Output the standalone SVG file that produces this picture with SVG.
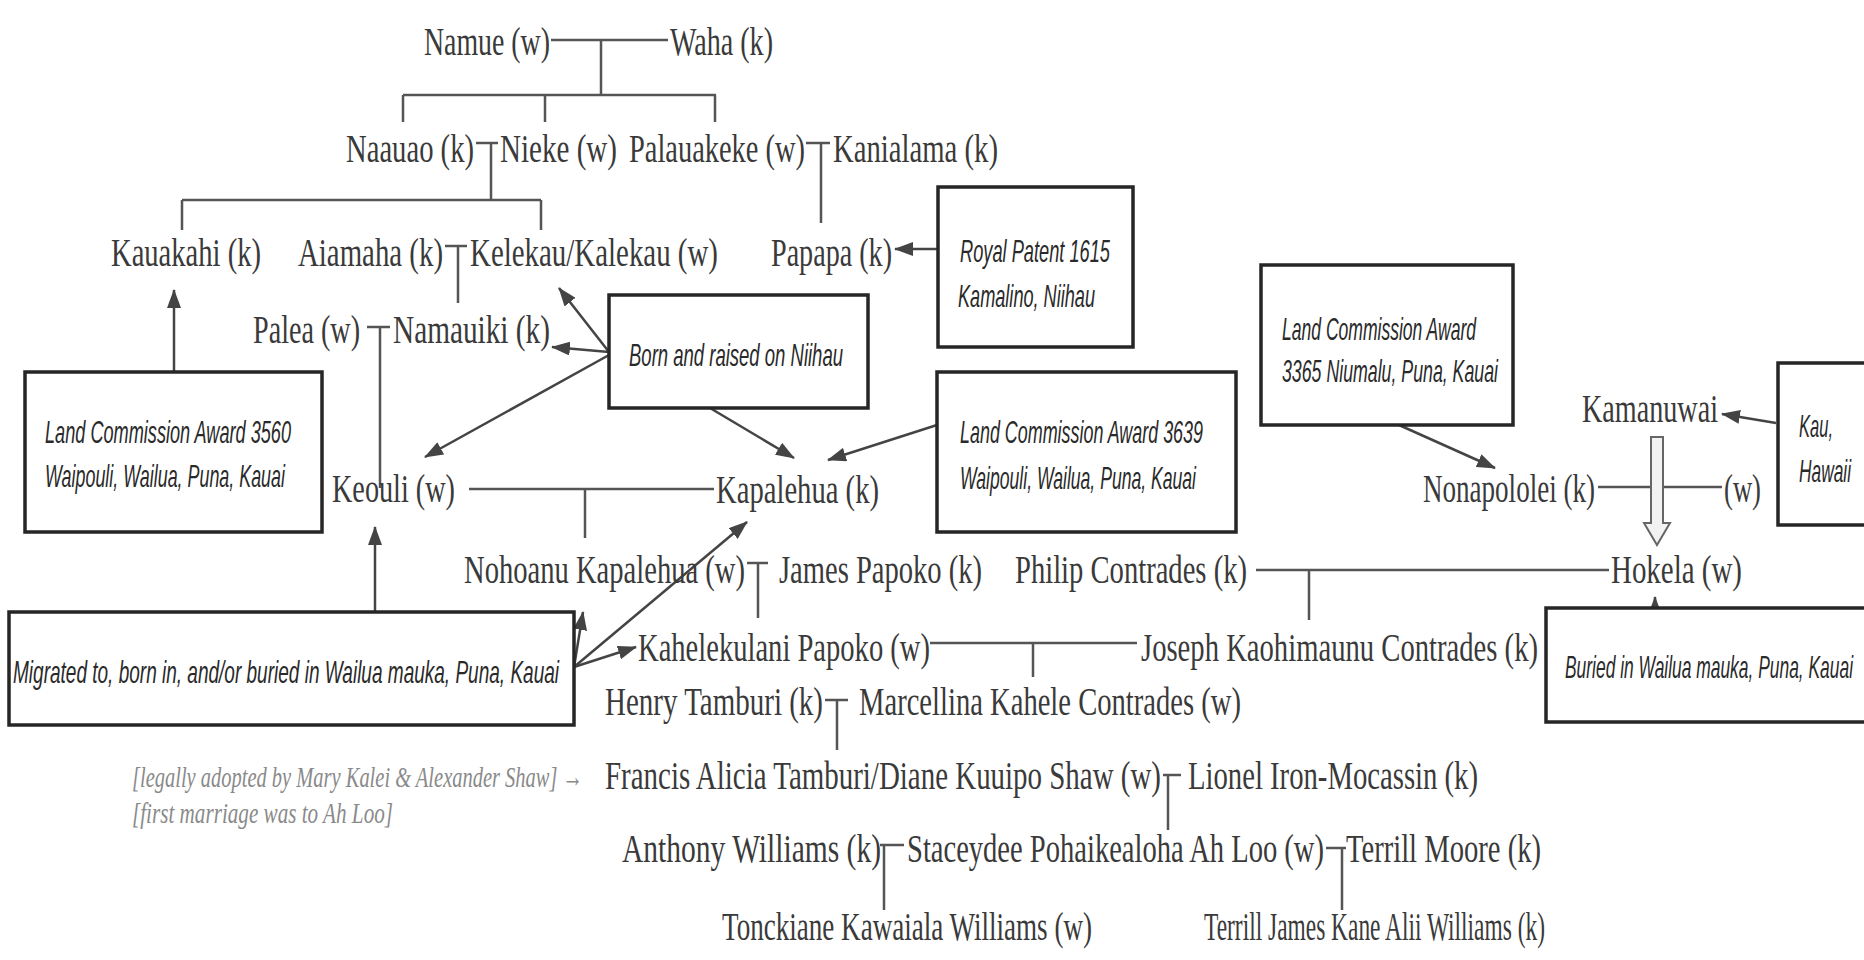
<svg xmlns="http://www.w3.org/2000/svg" width="1864" height="960" viewBox="0 0 1864 960">
<style>
.n{font-family:"Liberation Serif","Times New Roman",serif;font-size:28.5px;fill:#3a3a3a}
.h{font-family:"Liberation Sans",Arial,sans-serif;font-style:italic;font-size:18px;fill:#2a2a2a}
.note{font-family:"Liberation Serif","Times New Roman",serif;font-style:italic;font-size:21px;fill:#8a8a8a}
.box{fill:#fff;stroke:#262626;stroke-width:3.5}
.ln{stroke:#555;stroke-width:2.5;fill:none}
.ar{stroke:#444;stroke-width:2.5;fill:none;marker-end:url(#ah)}
</style>
<defs>
<marker id="ah" markerWidth="19" markerHeight="14" refX="18" refY="7" orient="auto" markerUnits="userSpaceOnUse">
<path d="M0,0 L19,7 L0,14 z" fill="#444"/>
</marker>
</defs>
<rect width="1864" height="960" fill="#fff"/>

<g id="connectors">
<path class="ln" d="M551 40 H668 M601 40 V95 M403 95 H716 M403 95 V122 M545 95 V122 M715 95 V122"/>
<path class="ln" d="M476 143 H498 M491 143 V200 M182 200 H541 M182 200 V230 M541 200 V230"/>
<path class="ln" d="M806 143 H830 M821 143 V223"/>
<path class="ln" d="M445 246 H467 M458 246 V303"/>
<path class="ln" d="M367 327 H390 M380 327 V488"/>
<path class="ln" d="M469 489 H714 M585 489 V538"/>
<path class="ln" d="M1598 487 H1722"/>
<path class="ln" d="M747 563 H768 M758 563 V618"/>
<path class="ln" d="M1256 570 H1609 M1309 570 V620"/>
<path class="ln" d="M930 643 H1137 M1033 643 V677"/>
<path class="ln" d="M825 700 H848 M837 700 V750"/>
<path class="ln" d="M1163 775 H1181 M1168 775 V830"/>
<path class="ln" d="M880 845 H904 M884 845 V910"/>
<path class="ln" d="M1326 848 H1346 M1342 848 V910"/>
<line class="ar" x1="938" y1="249" x2="895" y2="249"/>
<line class="ar" x1="174" y1="372" x2="174" y2="290"/>
<line class="ar" x1="609" y1="352" x2="559" y2="288"/>
<line class="ar" x1="609" y1="352" x2="552" y2="347"/>
<line class="ar" x1="609" y1="355" x2="425" y2="457"/>
<line class="ar" x1="710" y1="408" x2="794" y2="458"/>
<line class="ar" x1="937" y1="425" x2="828" y2="460"/>
<line class="ar" x1="1399" y1="425" x2="1495" y2="468"/>
<line class="ar" x1="1776" y1="423" x2="1722" y2="414"/>
<line class="ar" x1="1655" y1="633" x2="1655" y2="597"/>
<line class="ar" x1="375" y1="612" x2="375" y2="527"/>
<line class="ar" x1="574" y1="667" x2="583" y2="612"/>
<line class="ar" x1="574" y1="667" x2="747" y2="522"/>
<line class="ar" x1="574" y1="667" x2="636" y2="647"/>
<path d="M1651 437 H1663 V523 H1670 L1657 545 L1644 523 H1651 Z" fill="#f2f2f2" stroke="#666" stroke-width="2"/>
</g>

<g id="namue"><text class="n" transform="translate(424 55) scale(1 1.4)" textLength="126" lengthAdjust="spacingAndGlyphs">Namue (w)</text></g>
<g id="waha"><text class="n" transform="translate(670 55) scale(1 1.4)" textLength="103" lengthAdjust="spacingAndGlyphs">Waha (k)</text></g>
<g id="naauao"><text class="n" transform="translate(346 162) scale(1 1.4)" textLength="128" lengthAdjust="spacingAndGlyphs">Naauao (k)</text></g>
<g id="nieke"><text class="n" transform="translate(500 162) scale(1 1.4)" textLength="117" lengthAdjust="spacingAndGlyphs">Nieke (w)</text></g>
<g id="palauakeke"><text class="n" transform="translate(629 162) scale(1 1.4)" textLength="176" lengthAdjust="spacingAndGlyphs">Palauakeke (w)</text></g>
<g id="kanialama"><text class="n" transform="translate(833 162) scale(1 1.4)" textLength="165" lengthAdjust="spacingAndGlyphs">Kanialama (k)</text></g>
<g id="kauakahi"><text class="n" transform="translate(111 266) scale(1 1.4)" textLength="150" lengthAdjust="spacingAndGlyphs">Kauakahi (k)</text></g>
<g id="aiamaha"><text class="n" transform="translate(298 266) scale(1 1.4)" textLength="145" lengthAdjust="spacingAndGlyphs">Aiamaha (k)</text></g>
<g id="kelekau"><text class="n" transform="translate(470 266) scale(1 1.4)" textLength="248" lengthAdjust="spacingAndGlyphs">Kelekau/Kalekau (w)</text></g>
<g id="papapa"><text class="n" transform="translate(771 266) scale(1 1.4)" textLength="121" lengthAdjust="spacingAndGlyphs">Papapa (k)</text></g>
<g id="palea"><text class="n" transform="translate(253 343) scale(1 1.4)" textLength="107" lengthAdjust="spacingAndGlyphs">Palea (w)</text></g>
<g id="namauiki"><text class="n" transform="translate(393 343) scale(1 1.4)" textLength="157" lengthAdjust="spacingAndGlyphs">Namauiki (k)</text></g>
<g id="keouli"><text class="n" transform="translate(332 502) scale(1 1.4)" textLength="123" lengthAdjust="spacingAndGlyphs">Keouli (w)</text></g>
<g id="kapalehua"><text class="n" transform="translate(716 503) scale(1 1.4)" textLength="163" lengthAdjust="spacingAndGlyphs">Kapalehua (k)</text></g>
<g id="kamanuwai"><text class="n" transform="translate(1582 422) scale(1 1.4)" textLength="136" lengthAdjust="spacingAndGlyphs">Kamanuwai</text></g>
<g id="nonapololei"><text class="n" transform="translate(1423 502) scale(1 1.4)" textLength="172" lengthAdjust="spacingAndGlyphs">Nonapololei (k)</text></g>
<g id="nonapololei-wife"><text class="n" transform="translate(1724 502) scale(1 1.4)" textLength="37" lengthAdjust="spacingAndGlyphs">(w)</text></g>
<g id="nohoanu"><text class="n" transform="translate(464 583) scale(1 1.4)" textLength="281" lengthAdjust="spacingAndGlyphs">Nohoanu Kapalehua (w)</text></g>
<g id="james"><text class="n" transform="translate(779 583) scale(1 1.4)" textLength="203" lengthAdjust="spacingAndGlyphs">James Papoko (k)</text></g>
<g id="philip"><text class="n" transform="translate(1015 583) scale(1 1.4)" textLength="232" lengthAdjust="spacingAndGlyphs">Philip Contrades (k)</text></g>
<g id="hokela"><text class="n" transform="translate(1611 583) scale(1 1.4)" textLength="131" lengthAdjust="spacingAndGlyphs">Hokela (w)</text></g>
<g id="kahelekulani"><text class="n" transform="translate(638 661) scale(1 1.4)" textLength="292" lengthAdjust="spacingAndGlyphs">Kahelekulani Papoko (w)</text></g>
<g id="joseph"><text class="n" transform="translate(1141 661) scale(1 1.4)" textLength="397" lengthAdjust="spacingAndGlyphs">Joseph Kaohimaunu Contrades (k)</text></g>
<g id="henry"><text class="n" transform="translate(605 715) scale(1 1.4)" textLength="218" lengthAdjust="spacingAndGlyphs">Henry Tamburi (k)</text></g>
<g id="marcellina"><text class="n" transform="translate(859 715) scale(1 1.4)" textLength="382" lengthAdjust="spacingAndGlyphs">Marcellina Kahele Contrades (w)</text></g>
<g id="adoption-note"><text class="note" transform="translate(132 787) scale(1 1.45)" textLength="451" lengthAdjust="spacingAndGlyphs">[legally adopted by Mary Kalei &amp; Alexander Shaw] →</text>
<text class="note" transform="translate(132 823) scale(1 1.45)" textLength="261" lengthAdjust="spacingAndGlyphs">[first marriage was to Ah Loo]</text></g>
<g id="francis"><text class="n" transform="translate(605 789) scale(1 1.4)" textLength="556" lengthAdjust="spacingAndGlyphs">Francis Alicia Tamburi/Diane Kuuipo Shaw (w)</text></g>
<g id="lionel"><text class="n" transform="translate(1188 789) scale(1 1.4)" textLength="290" lengthAdjust="spacingAndGlyphs">Lionel Iron-Mocassin (k)</text></g>
<g id="anthony"><text class="n" transform="translate(622 862) scale(1 1.4)" textLength="259" lengthAdjust="spacingAndGlyphs">Anthony Williams (k)</text></g>
<g id="staceydee"><text class="n" transform="translate(907 862) scale(1 1.4)" textLength="417" lengthAdjust="spacingAndGlyphs">Staceydee Pohaikealoha Ah Loo (w)</text></g>
<g id="terrill-moore"><text class="n" transform="translate(1346 862) scale(1 1.4)" textLength="195" lengthAdjust="spacingAndGlyphs">Terrill Moore (k)</text></g>
<g id="tonckiane"><text class="n" transform="translate(722 940) scale(1 1.4)" textLength="370" lengthAdjust="spacingAndGlyphs">Tonckiane Kawaiala Williams (w)</text></g>
<g id="terrill-james"><text class="n" transform="translate(1204 940) scale(1 1.4)" textLength="341" lengthAdjust="spacingAndGlyphs">Terrill James Kane Alii Williams (k)</text></g>

<g id="box-royal-patent"><rect class="box" x="938" y="187" width="195" height="160"/>
<text class="h" transform="translate(960 262) scale(1 1.78)" textLength="150" lengthAdjust="spacingAndGlyphs">Royal Patent 1615</text>
<text class="h" transform="translate(958 307) scale(1 1.78)" textLength="137" lengthAdjust="spacingAndGlyphs">Kamalino, Niihau</text></g>
<g id="box-born-niihau"><rect class="box" x="609" y="295" width="259" height="113"/>
<text class="h" transform="translate(629 366) scale(1 1.78)" textLength="214" lengthAdjust="spacingAndGlyphs">Born and raised on Niihau</text></g>
<g id="box-lca-3560"><rect class="box" x="25" y="372" width="297" height="160"/>
<text class="h" transform="translate(45 443) scale(1 1.78)" textLength="246" lengthAdjust="spacingAndGlyphs">Land Commission Award 3560</text>
<text class="h" transform="translate(45 487) scale(1 1.78)" textLength="240" lengthAdjust="spacingAndGlyphs">Waipouli, Wailua, Puna, Kauai</text></g>
<g id="box-lca-3639"><rect class="box" x="937" y="372" width="299" height="160"/>
<text class="h" transform="translate(960 443) scale(1 1.78)" textLength="243" lengthAdjust="spacingAndGlyphs">Land Commission Award 3639</text>
<text class="h" transform="translate(960 489) scale(1 1.78)" textLength="236" lengthAdjust="spacingAndGlyphs">Waipouli, Wailua, Puna, Kauai</text></g>
<g id="box-lca-3365"><rect class="box" x="1261" y="265" width="252" height="160"/>
<text class="h" transform="translate(1282 340) scale(1 1.78)" textLength="194" lengthAdjust="spacingAndGlyphs">Land Commission Award</text>
<text class="h" transform="translate(1282 382) scale(1 1.78)" textLength="216" lengthAdjust="spacingAndGlyphs">3365 Niumalu, Puna, Kauai</text></g>
<g id="box-kau"><rect class="box" x="1778" y="363" width="110" height="162"/>
<text class="h" transform="translate(1799 437) scale(1 1.78)" textLength="34" lengthAdjust="spacingAndGlyphs">Kau,</text>
<text class="h" transform="translate(1799 482) scale(1 1.78)" textLength="52" lengthAdjust="spacingAndGlyphs">Hawaii</text></g>
<g id="box-migrated"><rect class="box" x="9" y="612" width="565" height="113"/>
<text class="h" transform="translate(13 683) scale(1 1.78)" textLength="546" lengthAdjust="spacingAndGlyphs">Migrated to, born in, and/or buried in Wailua mauka, Puna, Kauai</text></g>
<g id="box-buried"><rect class="box" x="1546" y="608" width="340" height="114"/>
<text class="h" transform="translate(1565 678) scale(1 1.78)" textLength="288" lengthAdjust="spacingAndGlyphs">Buried in Wailua mauka, Puna, Kauai</text></g>
</svg>
